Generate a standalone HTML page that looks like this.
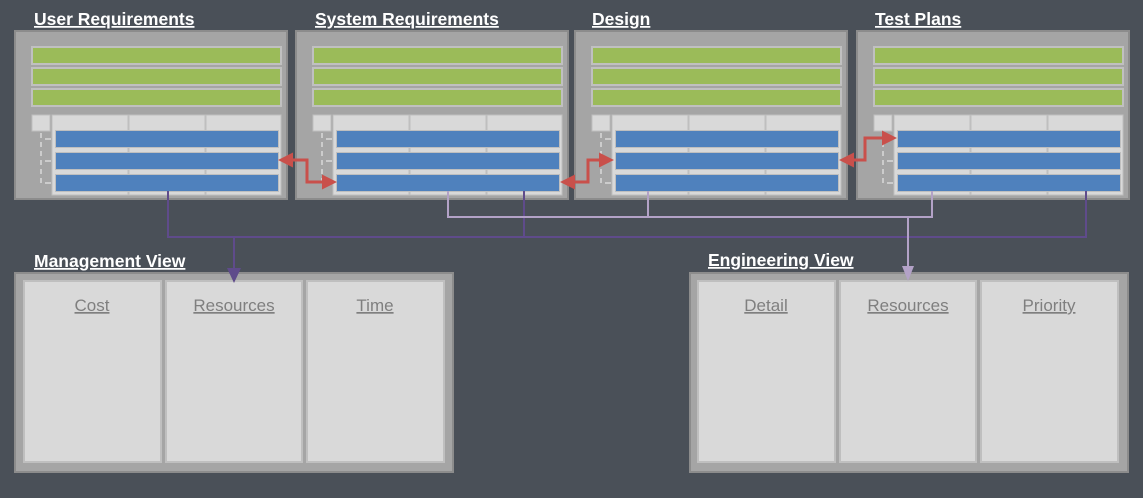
<!DOCTYPE html>
<html><head><meta charset="utf-8"><style>
html,body{margin:0;padding:0;background:#4a5058;}
svg{display:block}
text{font-family:"Liberation Sans",sans-serif;}
.t{fill:#fff;font-weight:bold;font-size:17.5px;text-decoration:underline;}
.c{fill:#7f7f7f;font-size:17px;text-decoration:underline;}
</style></head><body>
<svg width="1143" height="498" viewBox="0 0 1143 498" xmlns="http://www.w3.org/2000/svg">
<defs>
<g id="panel">
<rect x="0" y="0" width="272" height="168" fill="#a5a5a5" stroke="#8c8c8c" stroke-width="2"/>
<rect x="16" y="15" width="251" height="19" fill="#c0c0c0"/><rect x="18" y="17" width="247" height="15" fill="#9bbb59"/>
<rect x="16" y="36" width="251" height="19" fill="#c0c0c0"/><rect x="18" y="38" width="247" height="15" fill="#9bbb59"/>
<rect x="16" y="57" width="251" height="19" fill="#c0c0c0"/><rect x="18" y="59" width="247" height="15" fill="#9bbb59"/>
<rect x="17" y="84" width="18" height="16" fill="#d9d9d9" stroke="#bfbfbf"/>
<rect x="37" y="84" width="229" height="80" fill="#d9d9d9" stroke="#bfbfbf"/>
<line x1="113.5" y1="84" x2="113.5" y2="164" stroke="#bfbfbf" stroke-width="2"/>
<line x1="190.5" y1="84" x2="190.5" y2="164" stroke="#bfbfbf" stroke-width="2"/>
<rect x="40" y="99" width="224" height="18" fill="#bfbfbf"/><rect x="41" y="100" width="222" height="16" fill="#4f81bd"/>
<rect x="40" y="121" width="224" height="18" fill="#bfbfbf"/><rect x="41" y="122" width="222" height="16" fill="#4f81bd"/>
<rect x="40" y="143" width="224" height="18" fill="#bfbfbf"/><rect x="41" y="144" width="222" height="16" fill="#4f81bd"/>
<line x1="26" y1="102" x2="26" y2="154" stroke="#d9d9d9" stroke-width="1.5" stroke-dasharray="5,4"/>
<line x1="30" y1="108" x2="36" y2="108" stroke="#d9d9d9" stroke-width="1.5"/>
<line x1="30" y1="130" x2="36" y2="130" stroke="#d9d9d9" stroke-width="1.5"/>
<line x1="30" y1="152" x2="36" y2="152" stroke="#d9d9d9" stroke-width="1.5"/>
</g>
<marker id="ar" markerWidth="5" markerHeight="5" refX="4" refY="2.5" orient="auto-start-reverse" markerUnits="strokeWidth"><path d="M0,0 L5,2.5 L0,5 z" fill="#c9504b"/></marker>
</defs>

<use href="#panel" x="15" y="31"/>
<use href="#panel" x="296" y="31"/>
<use href="#panel" x="575" y="31"/>
<use href="#panel" x="857" y="31"/>

<text class="t" x="34" y="25">User Requirements</text>
<text class="t" x="315" y="25">System Requirements</text>
<text class="t" x="592" y="25">Design</text>
<text class="t" x="875" y="25">Test Plans</text>

<g fill="none" stroke="#c9504b" stroke-width="3" marker-start="url(#ar)" marker-end="url(#ar)">
<polyline points="281,160 307,160 307,182 334,182"/>
<polyline points="563,182 588,182 588,160 611,160"/>
<polyline points="842,160 865,160 865,138 894,138"/>
</g>

<g fill="none" stroke="#5f4b8b" stroke-width="2">
<polyline points="168,191 168,237 1086,237 1086,191"/>
<line x1="524" y1="191" x2="524" y2="237"/>
<line x1="234" y1="237" x2="234" y2="270"/>
</g>
<g fill="none" stroke="#b3a2c7" stroke-width="2">
<polyline points="448,191 448,217 932,217 932,191"/>
<line x1="648" y1="191" x2="648" y2="217"/>
<line x1="908" y1="217" x2="908" y2="266"/>
</g>

<text class="t" x="34" y="267">Management View</text>
<text class="t" x="708" y="266">Engineering View</text>

<rect x="15" y="273" width="438" height="199" fill="#a5a5a5" stroke="#8c8c8c" stroke-width="2"/>
<rect x="24" y="281" width="137" height="181" fill="#d9d9d9" stroke="#bfbfbf" stroke-width="2"/>
<rect x="166" y="281" width="136" height="181" fill="#d9d9d9" stroke="#bfbfbf" stroke-width="2"/>
<rect x="307" y="281" width="137" height="181" fill="#d9d9d9" stroke="#bfbfbf" stroke-width="2"/>
<path d="M227,268 L241,268 L234,283 z" fill="#5f4b8b"/>
<text class="c" x="92" y="311" text-anchor="middle">Cost</text>
<text class="c" x="234" y="311" text-anchor="middle">Resources</text>
<text class="c" x="375" y="311" text-anchor="middle">Time</text>

<rect x="690" y="273" width="438" height="199" fill="#a5a5a5" stroke="#8c8c8c" stroke-width="2"/>
<rect x="698" y="281" width="137" height="181" fill="#d9d9d9" stroke="#bfbfbf" stroke-width="2"/>
<rect x="840" y="281" width="136" height="181" fill="#d9d9d9" stroke="#bfbfbf" stroke-width="2"/>
<rect x="981" y="281" width="137" height="181" fill="#d9d9d9" stroke="#bfbfbf" stroke-width="2"/>
<path d="M902,266 L914,266 L908,281 z" fill="#b3a2c7"/>
<text class="c" x="766" y="311" text-anchor="middle">Detail</text>
<text class="c" x="908" y="311" text-anchor="middle">Resources</text>
<text class="c" x="1049" y="311" text-anchor="middle">Priority</text>
</svg>
</body></html>
